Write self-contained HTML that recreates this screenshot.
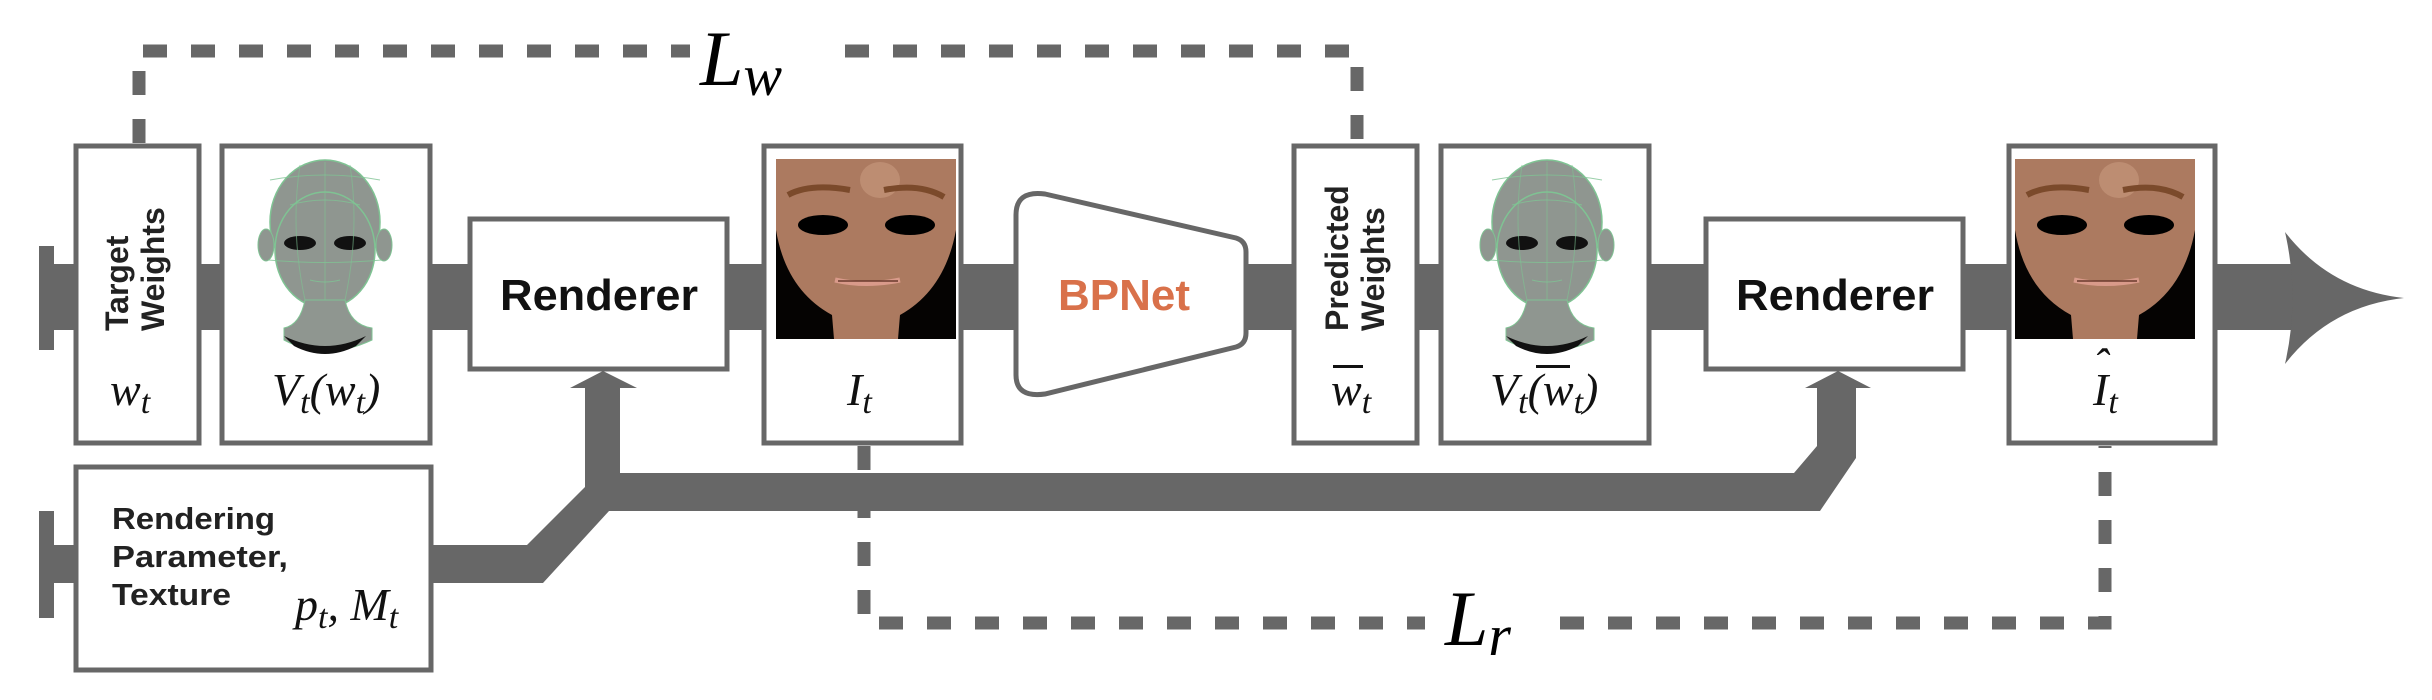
<!DOCTYPE html>
<html><head><meta charset="utf-8"><style>
html,body{margin:0;padding:0;background:#fff;}
svg{display:block;}
.sans{font-family:"Liberation Sans",sans-serif;font-weight:bold;}
.math{font-family:"Liberation Serif",serif;font-style:italic;}
</style></head><body>
<svg width="2432" height="700" viewBox="0 0 2432 700" xmlns="http://www.w3.org/2000/svg">
<defs>
<g id="mesh">
  <ellipse cx="325" cy="222" rx="55" ry="62" fill="#8f9690" stroke="#7fc393" stroke-width="1.5"/>
  <ellipse cx="325" cy="250" rx="50" ry="58" fill="#8f9690" stroke="#7fc393" stroke-width="1.5"/>
  <ellipse cx="266" cy="245" rx="8" ry="16" fill="#8f9690" stroke="#7fc393"/>
  <ellipse cx="384" cy="245" rx="8" ry="16" fill="#8f9690" stroke="#7fc393"/>
  <path d="M305,300 L345,300 Q350,325 372,328 L372,340 Q325,362 284,340 L284,328 Q300,325 305,300Z" fill="#8f9690" stroke="#7fc393"/>
  <path d="M284,336 Q325,356 366,336 L356,346 Q325,362 294,346Z" fill="#111"/>
  <ellipse cx="300" cy="243" rx="16" ry="7" fill="#111"/>
  <ellipse cx="350" cy="243" rx="16" ry="7" fill="#111"/>
  <path d="M290,205 Q325,195 360,205 M270,180 Q325,170 380,180 M268,260 Q325,265 382,260 M310,280 Q325,284 340,280" stroke="#7fc393" stroke-width="1" fill="none" opacity=".8"/>
  <path d="M325,162 L325,300 M300,165 Q290,230 305,300 M350,165 Q360,230 345,300" stroke="#7fc393" stroke-width="1" fill="none" opacity=".6"/>
</g>
<g id="face">
  <rect x="776" y="159" width="180" height="180" fill="#050302"/>
  <path d="M776,159 L956,159 L956,230 Q945,290 900,315 L898,339 L834,339 L832,315 Q786,290 776,230Z" fill="#ac7a60"/>
  <ellipse cx="880" cy="180" rx="20" ry="18" fill="#c4957a" opacity=".7"/>
  <path d="M788,195 Q810,183 850,190 M884,190 Q920,183 944,197" stroke="#7b4a2b" stroke-width="6" fill="none"/>
  <ellipse cx="823" cy="225" rx="25" ry="10" fill="#000"/>
  <ellipse cx="910" cy="225" rx="25" ry="10" fill="#000"/>
  <path d="M835,280 Q866,287 900,280" stroke="#d99a8a" stroke-width="5" fill="none"/>
  <path d="M838,281 L898,281" stroke="#6b3a2d" stroke-width="1.5"/>
</g>
</defs>

<rect x="47" y="264" width="2250" height="66" fill="#676767"/>
<rect x="39" y="246" width="15" height="104" fill="#676767"/>
<path d="M2285,232 Q2330,290 2404,298 Q2330,306 2285,364 Q2300,298 2285,232Z" fill="#676767"/>

<rect x="39" y="511" width="15" height="107" fill="#676767"/>
<path d="M47,545 L527,545 L585,487 L585,388 L570,388 L603,371 L637,388 L620,388 L620,473 L1794,473 L1817,446 L1817,388 L1805,388 L1838,371 L1871,388 L1856,388 L1856,458 L1820,511 L609,511 L543,583 L47,583Z" fill="#676767"/>

<g stroke="#676767" stroke-width="13" fill="none" stroke-dasharray="24 24">
  <path d="M139,143 L139,51 L690,51"/>
  <path d="M845,51 L1357,51 L1357,143"/>
  <path d="M864,446 L864,623 L1425,623"/>
  <path d="M1560,623 L2105,623 L2105,446"/>
</g>
<text x="700" y="85" class="math" font-size="78">L<tspan font-size="58" dy="10">w</tspan></text>
<text x="1445" y="645" class="math" font-size="78">L<tspan font-size="58" dy="10">r</tspan></text>

<g fill="#fff" stroke="#676767" stroke-width="5">
  <rect x="76" y="146" width="123" height="297"/>
  <rect x="222" y="146" width="208" height="297"/>
  <rect x="470" y="219" width="257" height="150"/>
  <rect x="764" y="146" width="197" height="297"/>
  <path d="M1045,194 L1236,238 Q1246,241 1246,252 L1246,333 Q1246,344 1236,347 L1045,394 Q1016,398 1016,375 L1016,215 Q1016,190 1045,194Z"/>
  <rect x="1294" y="146" width="123" height="297"/>
  <rect x="1441" y="146" width="208" height="297"/>
  <rect x="1706" y="219" width="257" height="150"/>
  <rect x="2009" y="146" width="206" height="297"/>
  <rect x="76" y="467" width="355" height="203"/>
</g>

<use href="#mesh"/>
<use href="#mesh" x="1222"/>
<use href="#face"/>
<use href="#face" x="1239"/>

<text class="sans" font-size="32" fill="#222" transform="translate(128,331) rotate(-90)">Target</text>
<text class="sans" font-size="32" fill="#222" transform="translate(164,331) rotate(-90)">Weights</text>
<text class="sans" font-size="32" fill="#222" transform="translate(1348,331) rotate(-90)">Predicted</text>
<text class="sans" font-size="32" fill="#222" transform="translate(1384,331) rotate(-90)">Weights</text>

<text x="500" y="310" class="sans" font-size="44" fill="#111" textLength="198" lengthAdjust="spacingAndGlyphs">Renderer</text>
<text x="1736" y="310" class="sans" font-size="44" fill="#111" textLength="198" lengthAdjust="spacingAndGlyphs">Renderer</text>
<text x="1058" y="310" class="sans" font-size="44" fill="#d9714a" textLength="132" lengthAdjust="spacingAndGlyphs">BPNet</text>

<text x="112" y="529" class="sans" font-size="31" fill="#222" textLength="163" lengthAdjust="spacingAndGlyphs">Rendering</text>
<text x="112" y="567" class="sans" font-size="31" fill="#222" textLength="176" lengthAdjust="spacingAndGlyphs">Parameter,</text>
<text x="112" y="605" class="sans" font-size="31" fill="#222" textLength="119" lengthAdjust="spacingAndGlyphs">Texture</text>

<g class="math" font-size="46" fill="#111">
<text x="110" y="405">w<tspan font-size="34" dy="8">t</tspan></text>
<text x="272" y="405">V<tspan font-size="34" dy="8">t</tspan><tspan dy="-8">(w</tspan><tspan font-size="34" dy="8">t</tspan><tspan dy="-8">)</tspan></text>
<text x="847" y="405">I<tspan font-size="34" dy="8">t</tspan></text>
<text x="1331" y="405">w<tspan font-size="34" dy="8">t</tspan></text>
<text x="1490" y="405">V<tspan font-size="34" dy="8">t</tspan><tspan dy="-8">(w</tspan><tspan font-size="34" dy="8">t</tspan><tspan dy="-8">)</tspan></text>
<text x="2093" y="405">I<tspan font-size="34" dy="8">t</tspan></text>
<text x="2093" y="380">ˆ</text>
<text x="295" y="620">p<tspan font-size="34" dy="8">t</tspan><tspan dy="-8">, M</tspan><tspan font-size="34" dy="8">t</tspan></text>
</g>
<rect x="1333" y="365" width="30" height="3" fill="#111"/>
<rect x="1536" y="365" width="34" height="3" fill="#111"/>
</svg>
</body></html>
